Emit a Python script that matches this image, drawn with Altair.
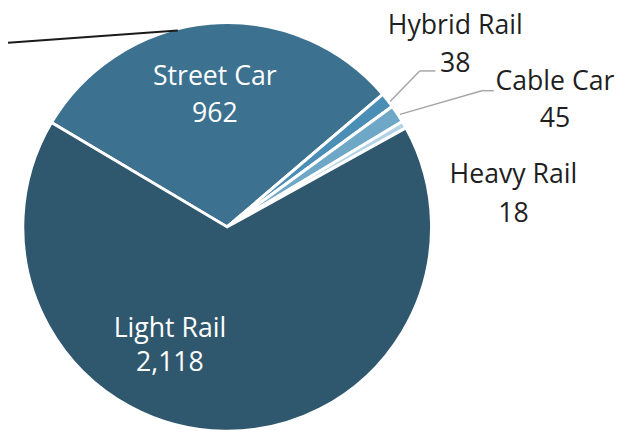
import math
import altair as alt
import pandas as pd

categories = ["Street Car", "Hybrid Rail", "Cable Car", "Heavy Rail", "Light Rail"]
values = [962, 38, 45, 18, 2118]
colors = ["#3C7190", "#4A8DB5", "#6FA7C7", "#B3D2E5", "#2F576E"]

df = pd.DataFrame({"category": categories, "value": values, "idx": list(range(len(categories)))})

CX, CY, R = 222, 219, 207
start = math.radians(-59.3)

base = alt.Chart(df)

pie = base.mark_arc(stroke="white", strokeWidth=3, radius=R).encode(
    theta=alt.Theta("value:Q", stack=True, scale=alt.Scale(range=[start, start + 2 * math.pi])),
    order=alt.Order("idx:Q"),
    color=alt.Color("category:N", scale=alt.Scale(domain=categories, range=colors), legend=None),
    x=alt.value(CX),
    y=alt.value(CY),
)

FONT = "Open Sans"
FS = 27

# label placements (layout) per category: (x, name_baseline, value_baseline, color)
placements = {
    "Street Car": (209.5, 75, 113, "white"),
    "Light Rail": (164, 330, 365, "white"),
    "Hybrid Rail": (453, 24, 62, "#1F1F1F"),
    "Cable Car": (554, 80, 118, "#1F1F1F"),
    "Heavy Rail": (512, 175, 214, "#1F1F1F"),
}

layers = [pie]
for cat, (lx, yn, yv, col) in placements.items():
    sub = base.transform_filter(alt.datum.category == cat)
    layers.append(
        sub.mark_text(font=FONT, fontSize=FS, baseline="alphabetic", align="center", color=col).encode(
            text="category:N", x=alt.value(lx), y=alt.value(yn)
        )
    )
    layers.append(
        sub.mark_text(font=FONT, fontSize=FS, baseline="alphabetic", align="center", color=col).encode(
            text=alt.Text("value:Q", format=",d"), x=alt.value(lx), y=alt.value(yv)
        )
    )

def seg(x1, y1, x2, y2, color="#A6A6A6", w=1.5):
    return alt.Chart(pd.DataFrame({"a": [0]})).mark_rule(color=color, strokeWidth=w).encode(
        x=alt.value(x1), y=alt.value(y1), x2=alt.value(x2), y2=alt.value(y2)
    )

layers += [
    seg(387, 92, 417, 61), seg(417, 61, 433, 61),
    seg(397, 105, 480, 81), seg(480, 81, 492, 81),
    seg(-8, 33, 172, 20, color="#1A1A1A", w=2),
]

chart = alt.layer(*layers).properties(
    width=627, height=425, autosize=alt.AutoSizeParams(type="none"), padding=0, background="white"
).configure_view(stroke=None)

chart.save("out.html", embed_options={"renderer": "svg", "actions": False})
